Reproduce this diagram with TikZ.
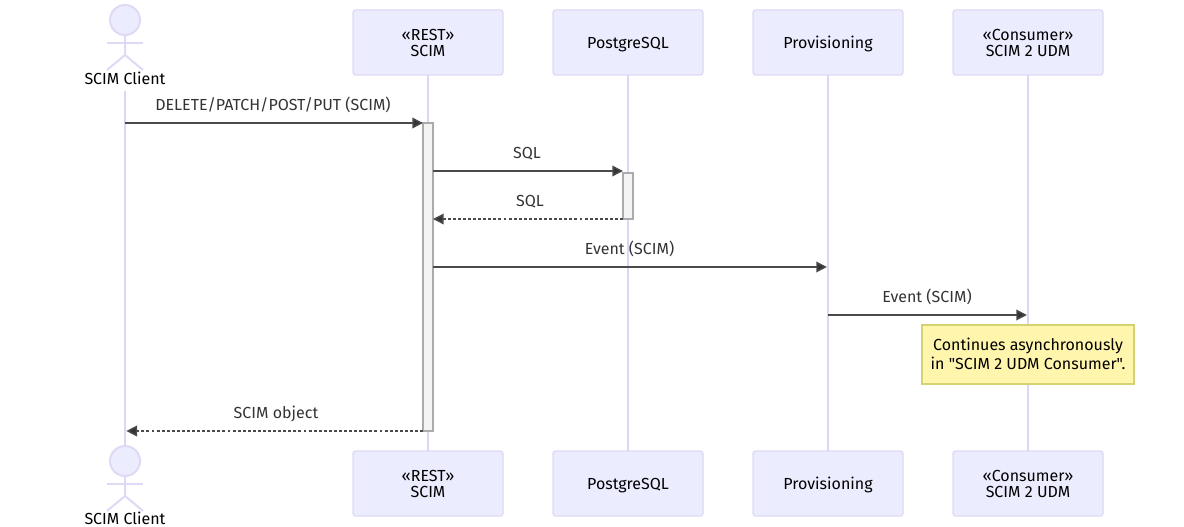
\documentclass[tikz,border=0pt]{standalone}
\usepackage{fontspec}
\setmainfont{Fira Sans}[Ligatures=TeXOff]
\usetikzlibrary{arrows.meta,positioning}
\definecolor{actorfill}{HTML}{ECECFF}
\definecolor{actorline}{HTML}{E0D9F5}
\definecolor{lifeline}{HTML}{DDD5F3}
\definecolor{msgline}{HTML}{4A4A4A}
\definecolor{msgtext}{HTML}{333333}
\definecolor{actfill}{HTML}{F4F4F4}
\definecolor{actline}{HTML}{ABABAB}
\definecolor{notefill}{HTML}{FFF5AD}
\definecolor{noteline}{HTML}{D5D272}
\tikzset{
  box/.style={rounded corners=2pt, draw=actorline, line width=1pt, fill=actorfill, outer sep=0pt, minimum width=112.5pt, minimum height=48.75pt, align=center, font=\fontsize{12}{12}\selectfont},
  sbox/.style={box, text height=11.5pt, text depth=2.5pt},
  head/.style={circle, draw=actorline, line width=1.5pt, fill=actorfill, outer sep=0pt, inner sep=0pt, minimum size=22.5pt},
  stick/.style={draw=actorline, line width=1.5pt},
  actorlabel/.style={inner sep=0pt, outer sep=0pt, minimum height=19pt, font=\fontsize{12}{12}\selectfont},
  life/.style={draw=lifeline, line width=1.5pt},
  activation/.style={rectangle, draw=actline, line width=1.1pt, fill=actfill, outer sep=0pt, inner sep=0pt, minimum width=7.5pt},
  arrow/.style={-{Triangle[length=8pt,width=8pt,fill=msgtext]}, draw=msgline, line width=1.1pt},
  dashedarrow/.style={arrow, dash pattern=on 2.2pt off 1.6pt},
  msg/.style={midway, above=5.9pt, xshift=-0.75pt, inner sep=0pt, text height=9pt, text depth=3pt, text=msgtext, font=\fontsize{12}{12}\selectfont},
  backmsg/.style={msg, xshift=2.25pt},
  note/.style={rectangle, draw=noteline, line width=1pt, fill=notefill, outer sep=0pt, minimum width=159pt, minimum height=44.25pt, align=center, font=\fontsize{12}{14.25}\selectfont},
}
\begin{document}
\begin{tikzpicture}[x=0.75pt, y=-0.75pt, node distance=37.5pt]
\useasboundingbox (0,0) rectangle (1184,527);

% participants, top row
\node[box] (rest) at (428,42.5) {«REST»\\SCIM};
\node[sbox, right=of rest] (pg) {PostgreSQL};
\node[sbox, right=of pg] (prov) {Provisioning};
\node[box, right=of prov] (udm) {«Consumer»\\SCIM 2 UDM};

% participants, bottom row
\node[box, below=282pt of rest] (restb) {«REST»\\SCIM};
\node[sbox, below=282pt of pg] (pgb) {PostgreSQL};
\node[sbox, below=282pt of prov] (provb) {Provisioning};
\node[box, below=282pt of udm] (udmb) {«Consumer»\\SCIM 2 UDM};

% actor, top and bottom
\node[head] (client) at (125,20) {};
\node[actorlabel] (clientlabel) at (125,78) {SCIM Client};
\node[head] (clientb) at (125,461) {};
\node[actorlabel] (clientblabel) at (125,518.5) {SCIM Client};
\draw[stick] (client.south) -- ++(0,20) -- ++(-18,15);
\draw[stick] (client.south) ++(0,20) -- ++(18,15);
\draw[stick] (client.south) ++(-18,8) -- ++(36,0);
\draw[stick] (clientb.south) -- ++(0,20) -- ++(-18,15);
\draw[stick] (clientb.south) ++(0,20) -- ++(18,15);
\draw[stick] (clientb.south) ++(-18,8) -- ++(36,0);

% lifelines
\draw[life] (clientlabel.south) -- (clientb.north);
\draw[life] (rest) -- (restb);
\draw[life] (pg) -- (pgb);
\draw[life] (prov) -- (provb);
\draw[life] (udm) -- (udmb);

% activations
\node[activation, minimum height=231pt] (act1) at (428,277) {};
\node[activation, minimum height=34.5pt] (act2) at (628,196) {};

% message ends
\coordinate (m1) at (clientlabel.south |- 0,123);
\coordinate (m2a) at (act1.east |- 0,171);
\coordinate (m2b) at (act2.west |- 0,171);
\coordinate (m3a) at (act2.south west);
\coordinate (m3b) at (act1.east |- 0,219);
\coordinate (m4a) at (act1.east |- 0,267);
\coordinate (m4b) at (prov |- 0,267);
\coordinate (m5a) at (prov |- 0,315);
\coordinate (m5b) at (udm |- 0,315);
\coordinate (m6) at (clientlabel.south |- 0,431);

% messages
\draw[arrow] (m1) -- (act1.north west) node[msg] {DELETE/PATCH/POST/PUT (SCIM)};
\draw[arrow] (m2a) -- (m2b) node[msg] {SQL};
\draw[dashedarrow] (m3a) -- (m3b) node[backmsg] {SQL};
\draw[arrow, shorten >=0.8pt] (m4a) -- (m4b) node[msg] {Event (SCIM)};
\draw[arrow, shorten >=0.8pt] (m5a) -- (m5b) node[msg] {Event (SCIM)};
\draw[dashedarrow, shorten >=1pt] (act1.south west) -- (m6) node[backmsg] {SCIM object};

% note
\node[note] (async) at (1028,354.5) {\raisebox{0.75pt}{Continues asynchronously}\\\raisebox{0.75pt}{in "SCIM 2 UDM Consumer".}};
\end{tikzpicture}
\end{document}
